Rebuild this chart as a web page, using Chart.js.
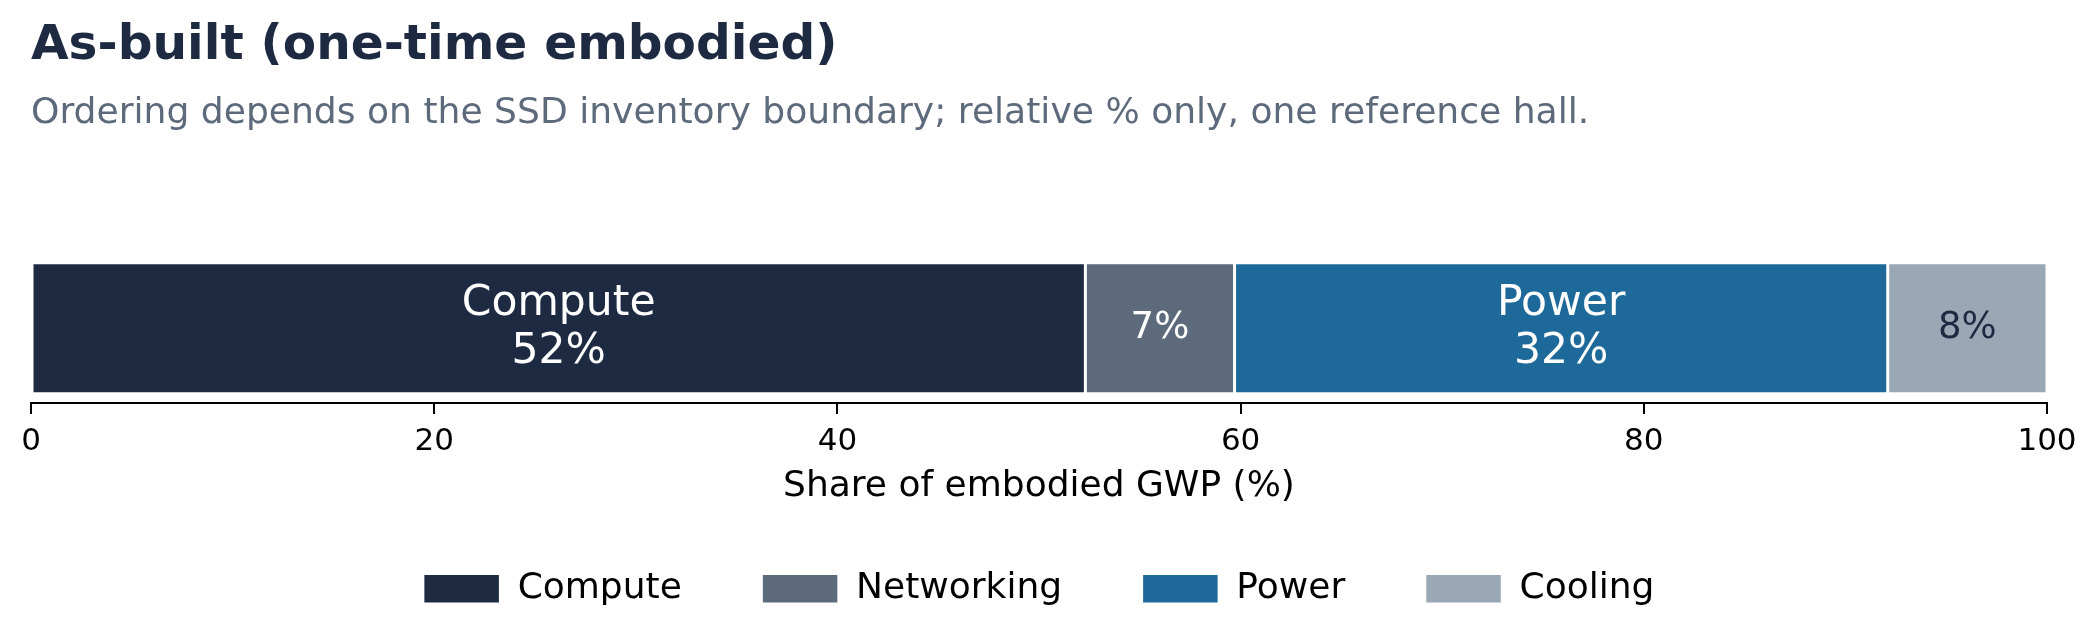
<!DOCTYPE html>
<html>
<head>
<meta charset="utf-8">
<script src="https://cdn.jsdelivr.net/npm/chart.js@4.4.1/dist/chart.umd.min.js"></script>
<style>
  html, body { margin: 0; padding: 0; background: #ffffff; }
  #wrap { width: 2098px; height: 640px; position: relative; }
</style>
</head>
<body>
<div id="wrap"><canvas id="c" width="2098" height="640"></canvas></div>
<script>
// ---- data ----
const categories = ["Compute", "Networking", "Power", "Cooling"];
const shares = [52.3, 7.4, 32.4, 7.9];
const pctLabels = ["52%", "7%", "32%", "8%"];
const xTicks = [0, 20, 40, 60, 80, 100];

const colors = ["#1d2a42", "#5d6a7b", "#1d6a9a", "#9aa7b4"];
const labelColors = ["#ffffff", "#ffffff", "#ffffff", "#1d2a42"];
const FONT = "'DejaVu Sans', sans-serif";

const datasets = categories.map((name, i) => ({
  label: name,
  data: [shares[i]],
  backgroundColor: colors[i],
  borderColor: "#ffffff",
  borderWidth: 1.5,
  borderSkipped: false,
  barPercentage: 1.0,
  categoryPercentage: 0.875
}));

const barLabelPlugin = {
  id: "barLabels",
  afterDatasetsDraw(chart) {
    const ctx = chart.ctx;
    ctx.save();
    ctx.textAlign = "center";
    ctx.textBaseline = "middle";
    chart.data.datasets.forEach((ds, i) => {
      const el = chart.getDatasetMeta(i).data[0];
      if (!el) return;
      const cx = (el.x + el.base) / 2;
      const cy = el.y;
      ctx.fillStyle = labelColors[i];
      if (shares[i] > 15) {
        ctx.font = "42.5px " + FONT;
        ctx.fillText(categories[i], cx, cy - 24);
        ctx.fillText(pctLabels[i], cx, cy + 24);
      } else {
        ctx.font = "37px " + FONT;
        ctx.fillText(pctLabels[i], cx, cy);
      }
    });
    ctx.restore();
  }
};

new Chart(document.getElementById("c"), {
  type: "bar",
  data: { labels: [""], datasets },
  plugins: [barLabelPlugin],
  options: {
    indexAxis: "y",
    responsive: false,
    animation: false,
    devicePixelRatio: 1,
    layout: { padding: { left: 31, right: 51, top: 0, bottom: 23.3 } },
    scales: {
      x: {
        stacked: true,
        min: 0,
        max: 100,
        afterBuildTicks(scale) { scale.ticks = xTicks.map(v => ({ value: v })); },
        ticks: { color: "#000000", font: { family: FONT, size: 31 }, padding: 9.4 },
        grid: { display: true, drawOnChartArea: false, drawTicks: true, tickLength: 11, color: "#000000", lineWidth: 2 },
        border: { display: true, color: "#000000", width: 2 },
        title: {
          display: true,
          text: "Share of embodied GWP (%)",
          color: "#000000",
          font: { family: FONT, size: 36 },
          padding: { top: -5.1, bottom: -17.7 }
        }
      },
      y: {
        stacked: true,
        display: false
      }
    },
    plugins: {
      title: {
        display: true,
        text: "As-built (one-time embodied)",
        align: "start",
        color: "#1d2a42",
        font: { family: FONT, size: 48.6, weight: "bold" },
        padding: { top: 17, bottom: 16.3 }
      },
      subtitle: {
        display: true,
        text: "Ordering depends on the SSD inventory boundary; relative % only, one reference hall.",
        align: "start",
        color: "#5d6a7b",
        font: { family: FONT, size: 36.1 },
        padding: { top: 0, bottom: 118.4 }
      },
      legend: {
        display: true,
        position: "bottom",
        labels: {
          color: "#000000",
          font: { family: FONT, size: 36 },
          boxWidth: 76,
          boxHeight: 29,
          padding: 80.3
        }
      },
      tooltip: { enabled: false }
    }
  }
});
</script>
</body>
</html>
